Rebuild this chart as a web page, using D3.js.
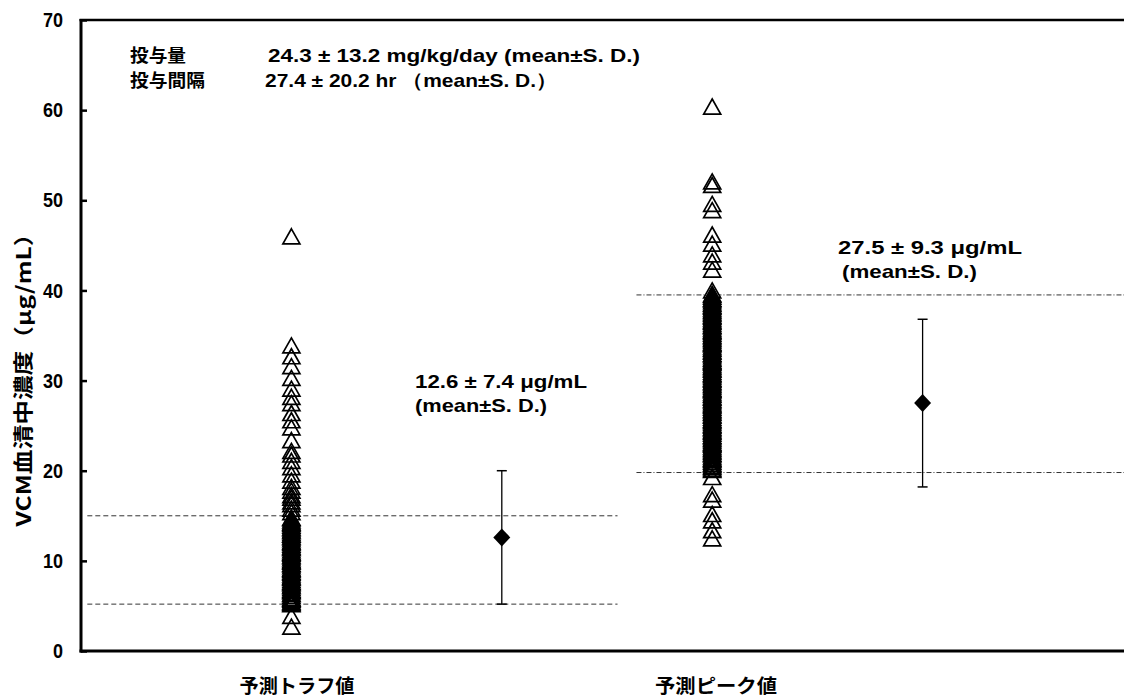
<!DOCTYPE html>
<html>
<head>
<meta charset="utf-8">
<script src="https://cdn.jsdelivr.net/npm/d3@7/dist/d3.min.js"></script>
<style>
  html, body { margin: 0; padding: 0; background: #fff; }
  svg { display: block; }
</style>
</head>
<body>
<svg id="chart" width="1124" height="697"></svg>
<script>
// Predicted vancomycin serum concentrations (trough / peak), individual patients
const groupNames = ["予測トラフ値", "予測ピーク値"];
const groupPos = [1, 3];          // x position of each patient column
const summaryPos = [2, 4];        // x position of each mean ± SD marker
const groupMeans = [12.6, 27.5];
const groupSDs = [7.4, 9.3];

const troughValues = [
  46.0, 33.9, 32.7, 31.6, 30.3, 29.1, 28.2, 27.5, 26.4, 25.6, 24.8, 23.4,
  22.2, 21.8, 21.1, 20.4, 19.6, 18.9, 18.2, 17.8, 17.3, 17.0, 16.6, 16.3,
  15.8, 15.4,
  14.8, 14.7, 14.5, 14.3, 14.2, 14.1, 13.9, 13.7, 13.6, 13.4, 13.3, 13.1,
  12.9, 12.9, 12.7, 12.6, 12.4, 12.2, 12.1, 12.0, 11.8, 11.6, 11.5, 11.4,
  11.2, 11.0, 10.9, 10.8, 10.6, 10.5, 10.3, 10.1, 10.0, 9.9, 9.7, 9.6,
  9.4, 9.2, 9.1, 9.0, 8.8, 8.7, 8.5, 8.3, 8.2, 8.1, 7.9, 7.7, 7.6, 7.5,
  7.3, 7.2, 7.0, 6.8, 6.7, 6.6, 6.4, 6.3, 6.1, 5.9, 5.8, 5.7, 5.5, 5.4,
  5.3, 5.2,
  3.9, 2.7
];

const peakValues = [
  60.4, 52.1, 51.7, 49.6, 48.9, 46.2, 45.2, 44.0, 43.2, 42.3, 40.0,
  39.6, 39.5, 39.3, 39.1, 39.0, 38.8, 38.6, 38.5, 38.3, 38.2, 38.0, 37.8,
  37.7, 37.5, 37.4, 37.2, 37.1, 36.9, 36.7, 36.6, 36.5, 36.3, 36.1, 36.0,
  35.8, 35.6, 35.5, 35.4, 35.2, 35.0, 34.9, 34.7, 34.6, 34.4, 34.2, 34.1,
  34.0, 33.8, 33.6, 33.5, 33.3, 33.2, 33.0, 32.9, 32.7, 32.5, 32.4, 32.2,
  32.1, 32.0, 31.8, 31.6, 31.5, 31.3, 31.2, 31.0, 30.8, 30.7, 30.6, 30.4,
  30.2, 30.1, 29.9, 29.8, 29.6, 29.5, 29.3, 29.1, 29.0, 28.9, 28.7, 28.5,
  28.4, 28.2, 28.1, 27.9, 27.8, 27.6, 27.4, 27.3, 27.2, 27.0, 26.8, 26.7,
  26.5, 26.4, 26.2, 26.1, 25.9, 25.7, 25.6, 25.5, 25.3, 25.1, 25.0, 24.8,
  24.7, 24.5, 24.4, 24.3, 24.1, 23.9, 23.8, 23.6, 23.5, 23.3, 23.1, 23.0,
  22.9, 22.7, 22.5, 22.4, 22.2, 22.1, 21.9, 21.8, 21.6, 21.4, 21.3, 21.2,
  21.0, 20.8, 20.7, 20.5, 20.4, 20.2, 20.1,
  19.3, 17.4, 16.8, 15.2, 14.5, 13.4, 12.5
];

const yTicks = [0, 10, 20, 30, 40, 50, 60, 70];

// Reference ranges drawn across each half of the plot
const troughRange = [5.2, 15.0];
const peakRange = [19.8, 39.5];
const troughSpan = [0.03, 2.55];
const peakSpan = [2.64, 5];

const svg = d3.select("#chart");
const x = d3.scaleLinear().domain([0, 5]).range([81, 1133]);
const y = d3.scaleLinear().domain([0, 70]).range([651, 20]);

const latin = "'Liberation Sans', Arial, sans-serif";
const cjk = "'Noto Sans CJK JP', sans-serif";

// Reference range lines
const refLines = svg.append("g");
troughRange.forEach(v => {
  refLines.append("line")
    .attr("x1", x(troughSpan[0])).attr("x2", x(troughSpan[1]))
    .attr("y1", y(v)).attr("y2", y(v))
    .attr("stroke", "#333").attr("stroke-width", 1)
    .attr("stroke-dasharray", "5,3");
});
peakRange.forEach(v => {
  refLines.append("line")
    .attr("x1", x(peakSpan[0])).attr("x2", x(peakSpan[1]))
    .attr("y1", y(v)).attr("y2", y(v))
    .attr("stroke", "#333").attr("stroke-width", 1)
    .attr("stroke-dasharray", "5,2,1,2");
});

// Individual patients: open triangles (white bodies first, then every outline)
const tri = "M0,-7.5L8.5,7.5L-8.5,7.5Z";
[troughValues, peakValues].forEach((vals, i) => {
  const g = svg.append("g");
  const sorted = d3.sort(vals, d3.ascending);
  g.append("g").selectAll("path")
    .data(sorted)
    .join("path")
    .attr("d", tri)
    .attr("transform", d => `translate(${x(groupPos[i])},${y(d)})`)
    .attr("fill", "#fff")
    .attr("stroke", "none");
  g.append("g").selectAll("path")
    .data(sorted)
    .join("path")
    .attr("d", tri)
    .attr("transform", d => `translate(${x(groupPos[i])},${y(d)})`)
    .attr("fill", "none")
    .attr("stroke", "#000")
    .attr("stroke-width", 1.7);
});

// Mean ± SD markers
const summary = svg.append("g");
groupMeans.forEach((m, i) => {
  const cx = x(summaryPos[i]);
  const lo = y(m - groupSDs[i]), hi = y(m + groupSDs[i]);
  summary.append("line").attr("x1", cx).attr("x2", cx).attr("y1", lo).attr("y2", hi)
    .attr("stroke", "#000").attr("stroke-width", 1.3);
  [lo, hi].forEach(yy => {
    summary.append("line").attr("x1", cx - 5).attr("x2", cx + 5).attr("y1", yy).attr("y2", yy)
      .attr("stroke", "#000").attr("stroke-width", 1.5);
  });
  summary.append("path")
    .attr("d", "M0,-9L8.5,0L0,9L-8.5,0Z")
    .attr("transform", `translate(${cx},${y(m)})`)
    .attr("fill", "#000");
});

// Frame: left axis, bottom axis, top border
const yAxis = d3.axisRight(y).tickValues(yTicks).tickSize(6).tickFormat("");
const gy = svg.append("g").attr("transform", `translate(${x(0)},0)`).call(yAxis);
gy.select(".domain").remove();
gy.selectAll(".tick line").attr("stroke", "#000").attr("stroke-width", 2.5);

svg.append("line").attr("x1", x(0)).attr("x2", x(0)).attr("y1", y(70) - 1).attr("y2", y(0) + 1.5)
  .attr("stroke", "#000").attr("stroke-width", 3);
svg.append("line").attr("x1", x(0) - 1.5).attr("x2", x(5)).attr("y1", y(0)).attr("y2", y(0))
  .attr("stroke", "#000").attr("stroke-width", 3);
svg.append("line").attr("x1", x(0) - 1.5).attr("x2", x(5)).attr("y1", y(70)).attr("y2", y(70))
  .attr("stroke", "#000").attr("stroke-width", 2.5);

// Tick labels
svg.append("g").selectAll("text")
  .data(yTicks)
  .join("text")
  .attr("x", 63)
  .attr("y", d => y(d))
  .attr("dy", "0.36em")
  .attr("text-anchor", "end")
  .attr("font-family", latin)
  .attr("font-weight", "bold")
  .attr("font-size", 20)
  .attr("transform", d => `translate(63,${y(d)}) scale(0.9,1) translate(-63,${-y(d)})`)
  .text(d => d);

// Y axis title
svg.append("text")
  .attr("transform", "translate(31,374) rotate(-90)")
  .attr("text-anchor", "middle")
  .attr("font-family", cjk)
  .attr("font-weight", "bold")
  .attr("font-size", 20)
  .attr("textLength", 305)
  .attr("lengthAdjust", "spacingAndGlyphs")
  .text("VCM血清中濃度（μg/mL）");

// Category labels
const catLabelX = [297, 716];
const catLabelW = [115, 122];
groupNames.forEach((g, i) => {
  svg.append("text")
    .attr("x", catLabelX[i] - catLabelW[i] / 2)
    .attr("y", 693)
    .attr("font-family", cjk)
    .attr("font-weight", "bold")
    .attr("font-size", 19)
    .attr("textLength", catLabelW[i])
    .attr("lengthAdjust", "spacingAndGlyphs")
    .text(g);
});

// Text helper
function label(str, x0, baseline, width, family, size) {
  const t = svg.append("text")
    .attr("x", x0).attr("y", baseline)
    .attr("font-family", family)
    .attr("font-weight", "bold")
    .attr("font-size", size)
    .text(str);
  if (width) t.attr("textLength", width).attr("lengthAdjust", "spacingAndGlyphs");
  return t;
}

// Dosing summary
label("投与量", 130, 62, 56, cjk, 18);
label("24.3 ± 13.2 mg/kg/day (mean±S. D.)", 268, 62, 372, latin, 19);
label("投与間隔", 130, 87, 75, cjk, 18);
label("27.4 ± 20.2 hr （mean±S. D.）", 265, 87, 292, latin, 19);

// Group summaries
label("12.6 ± 7.4 μg/mL", 415, 388, 172, latin, 19);
label("(mean±S. D.)", 415, 412, 132, latin, 19);
label("27.5 ± 9.3 μg/mL", 838, 254, 184, latin, 19);
label("(mean±S. D.)", 842, 278, 135, latin, 19);
</script>
</body>
</html>
